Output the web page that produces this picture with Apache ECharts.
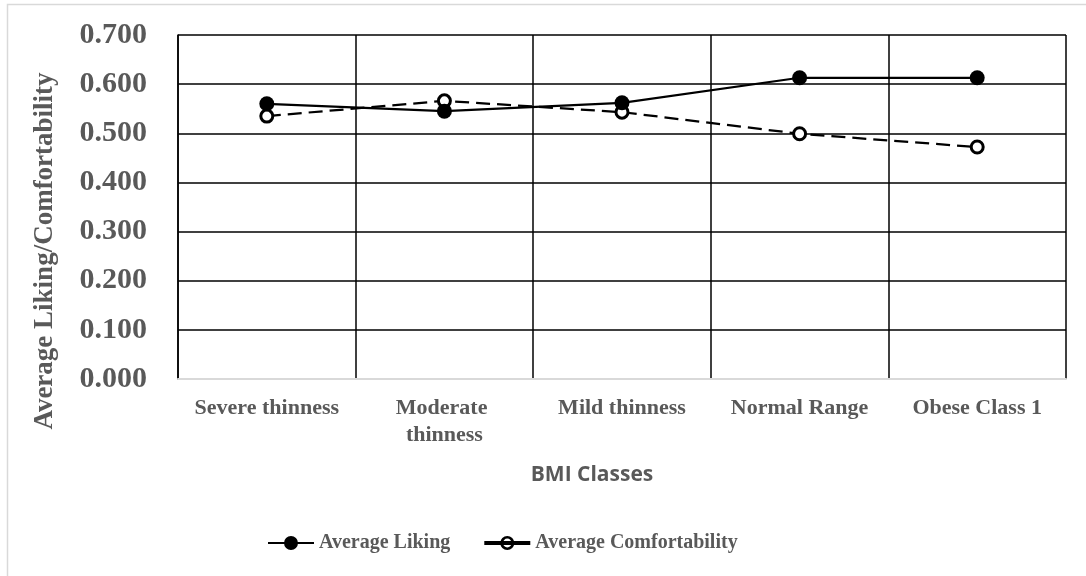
<!DOCTYPE html>
<html>
<head>
<meta charset="utf-8">
<script src="https://cdn.jsdelivr.net/npm/echarts@6/dist/echarts.min.js"></script>
<style>
  html, body { margin: 0; padding: 0; background: #fff; }
  #chart { width: 1086px; height: 576px; }
</style>
</head>
<body>
<div id="chart"></div>
<script>
// BMI classes on the category axis
const categories = ['Severe thinness', 'Moderate thinness', 'Mild thinness', 'Normal Range', 'Obese Class 1'];
// Average scores per class
const averageLiking = [0.560, 0.545, 0.562, 0.613, 0.613];
const averageComfortability = [0.535, 0.566, 0.543, 0.499, 0.472];
// Value axis range
const yMin = 0, yMax = 0.7, yStep = 0.1;

const serif = "'Liberation Serif', 'Times New Roman', serif";
const textGrey = '#595959';

// Legend keys: thin line with a filled dot, thick line with a ring
const likingIcon = 'path://M0,6 H46 V8 H0 Z M16,7 A7,7 0 1,1 30,7 A7,7 0 1,1 16,7 Z';
const comfortIcon = 'path://M0,5 H46 V9 H0 Z M16,7 A7,7 0 1,1 30,7 A7,7 0 1,1 16,7 Z M18.6,7 A4.4,4.4 0 1,0 27.4,7 A4.4,4.4 0 1,0 18.6,7 Z';

const chart = echarts.init(document.getElementById('chart'), null, { renderer: 'canvas' });

chart.setOption({
  backgroundColor: '#ffffff',
  animation: false,
  grid: { left: 178, right: 20, top: 35, bottom: 197, containLabel: false },
  xAxis: {
    type: 'category',
    data: categories,
    boundaryGap: true,
    axisLine: { show: true, lineStyle: { color: '#d9d9d9', width: 2 } },
    axisTick: { show: false },
    splitLine: { show: true, lineStyle: { color: '#000', width: 1.5 } },
    axisLabel: {
      interval: 0,
      margin: 16,
      color: textGrey,
      fontFamily: serif,
      fontWeight: 'bold',
      fontSize: 22,
      lineHeight: 27,
      width: 165,
      overflow: 'break'
    }
  },
  yAxis: {
    type: 'value',
    min: yMin,
    max: yMax,
    interval: yStep,
    axisLine: { show: true, lineStyle: { color: '#000', width: 1.5 } },
    axisTick: { show: false },
    splitLine: { show: true, lineStyle: { color: '#000', width: 1.5 } },
    axisLabel: {
      margin: 31,
      color: textGrey,
      fontFamily: serif,
      fontWeight: 'bold',
      fontSize: 30,
      formatter: v => v.toFixed(3)
    }
  },
  legend: {
    left: 263,
    top: 528,
    itemWidth: 46,
    itemHeight: 14,
    itemGap: 34,
    textStyle: { color: textGrey, fontFamily: serif, fontWeight: 'bold', fontSize: 20 },
    data: [
      { name: 'Average Liking', icon: likingIcon, itemStyle: { color: '#000', borderWidth: 0 } },
      { name: 'Average Comfortability', icon: comfortIcon, itemStyle: { color: '#000', borderWidth: 0 } }
    ]
  },
  graphic: [
    {
      type: 'rect',
      shape: { x: 7.5, y: 4.5, width: 1090, height: 600 },
      style: { fill: 'none', stroke: '#d9d9d9', lineWidth: 1.5 },
      silent: true
    },
    {
      type: 'text',
      x: 45, y: 251,
      rotation: Math.PI / 2,
      style: {
        text: 'Average Liking/Comfortability',
        fill: textGrey,
        font: "bold 27px 'Liberation Serif', 'Times New Roman', serif",
        textAlign: 'center',
        textVerticalAlign: 'middle'
      }
    },
    {
      type: 'text',
      x: 592, y: 475,
      style: {
        text: 'BMI Classes',
        fill: textGrey,
        font: "bold 21px 'Open Sans', 'Liberation Sans', sans-serif",
        textAlign: 'center',
        textVerticalAlign: 'middle'
      }
    }
  ],
  series: [
    {
      name: 'Average Liking',
      type: 'line',
      data: averageLiking,
      symbol: 'circle',
      symbolSize: 15,
      itemStyle: { color: '#000' },
      lineStyle: { color: '#000', width: 2.25, type: 'solid' },
      z: 3
    },
    {
      name: 'Average Comfortability',
      type: 'line',
      data: averageComfortability,
      symbol: 'circle',
      symbolSize: 12,
      itemStyle: { color: '#fff', borderColor: '#000', borderWidth: 3 },
      lineStyle: { color: '#000', width: 2.25, type: [14, 7] },
      z: 2
    }
  ]
});
</script>
</body>
</html>
